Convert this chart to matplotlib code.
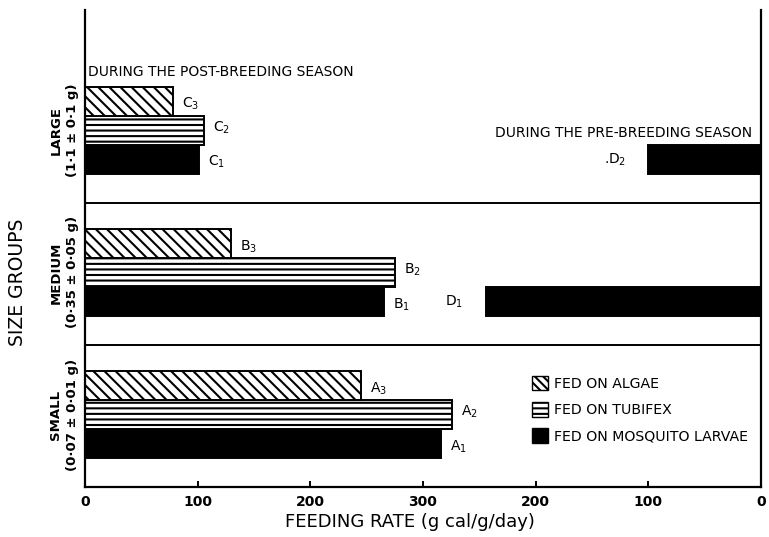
import matplotlib
matplotlib.use("Agg")
import matplotlib.pyplot as plt
from matplotlib.patches import Patch
from matplotlib.transforms import blended_transform_factory
import numpy as np

# feeding rates (g cal/g/day), groups ordered small, medium, large
groups = ["SMALL", "MEDIUM", "LARGE"]
group_weights = ["(0·07 ± 0·01 g)", "(0·35 ± 0·05 g)", "(1·1 ± 0·1 g)"]
letters = ["A", "B", "C"]
mosquito = np.array([316, 265, 101])   # A1, B1, C1
tubifex = np.array([326, 275, 106])    # A2, B2, C2
algae = np.array([245, 130, 78])       # A3, B3, C3
# pre-breeding season, mosquito larvae (plotted from the right end)
pre_groups = [1, 2]
pre_mosquito = np.array([244, 100])    # D1, D2
pre_names = ["D$_1$", ".D$_2$"]

xticks_left = [0, 100, 200, 300]
xticks_right = [200, 100, 0]

plt.rcParams["font.family"] = "DejaVu Sans"
plt.rcParams["hatch.linewidth"] = 1.5
fig = plt.figure(figsize=(7.69, 5.37), dpi=100)
ax = fig.add_axes([85 / 769, 50 / 537, 676 / 769, 477 / 537])

span = 600
gh = 4.9
base = np.arange(3) * gh
bh = 1.0
kw = dict(height=bh, edgecolor="black", linewidth=1.4)

ax.barh(base + 1.5, mosquito, color="black", **kw)
ax.barh(base + 2.5, tubifex, color="white", hatch="---", **kw)
ax.barh(base + 3.5, algae, color="white", hatch="\\\\\\", **kw)
pre_y = base[pre_groups] + 1.5
ax.barh(pre_y, pre_mosquito, left=span - pre_mosquito, color="black", **kw)

lab = dict(fontsize=10, va="center")
for i in range(3):
    ax.text(mosquito[i] + 8, base[i] + 1.4, letters[i] + "$_1$", **lab)
    ax.text(tubifex[i] + 8, base[i] + 2.6, letters[i] + "$_2$", **lab)
    ax.text(algae[i] + 8, base[i] + 3.4, letters[i] + "$_3$", **lab)
for y, v, n in zip(pre_y, pre_mosquito, pre_names):
    ax.text(span - v - 20, y, n, ha="right", **lab)

for b in base[1:]:
    ax.axhline(b, color="black", linewidth=1.4)

ax.text(3, 14.3, "DURING THE POST-BREEDING SEASON", fontsize=10, va="center")
ax.text(592, 12.2, "DURING THE PRE-BREEDING SEASON", fontsize=10, va="center", ha="right")

ax.set_xlim(0, span)
ax.set_ylim(0, 16.45)
ax.set_xticks(xticks_left + [span - t for t in xticks_right])
ax.set_xticklabels([str(t) for t in xticks_left + xticks_right], fontsize=10, fontweight="bold")
ax.tick_params(axis="x", direction="in", length=4, width=1.4, pad=6)
ax.set_yticks([])
ax.spines["top"].set_visible(False)
for s in ["left", "right", "bottom"]:
    ax.spines[s].set_linewidth(1.6)

ax.set_xlabel("FEEDING RATE (g cal/g/day)", fontsize=13)
ax.xaxis.set_label_coords(0.48, -0.055)

tr = blended_transform_factory(ax.transAxes, ax.transData)
for i in range(3):
    yc = base[i] + 2.5
    ax.text(-0.043, yc, groups[i], rotation=90, transform=tr, ha="center", va="center",
            fontsize=9.5, fontweight="bold")
    ax.text(-0.018, yc, group_weights[i], rotation=90, transform=tr, ha="center", va="center",
            fontsize=9.5, fontweight="bold")
fig.text(18 / 769, 1 - 282 / 537, "SIZE GROUPS", rotation=90, ha="center", va="center", fontsize=13.5)

handles = [Patch(facecolor="white", edgecolor="black", hatch="\\\\\\\\"),
           Patch(facecolor="white", edgecolor="black", hatch="---"),
           Patch(facecolor="black", edgecolor="black")]
ax.legend(handles, ["FED ON ALGAE", "FED ON TUBIFEX", "FED ON MOSQUITO LARVAE"],
          loc="upper left", bbox_to_anchor=(0.643, 0.26), frameon=False, fontsize=10.2,
          handlelength=1.1, handleheight=1.2, handletextpad=0.4, labelspacing=0.8)

fig.savefig("out.png", dpi=100)
